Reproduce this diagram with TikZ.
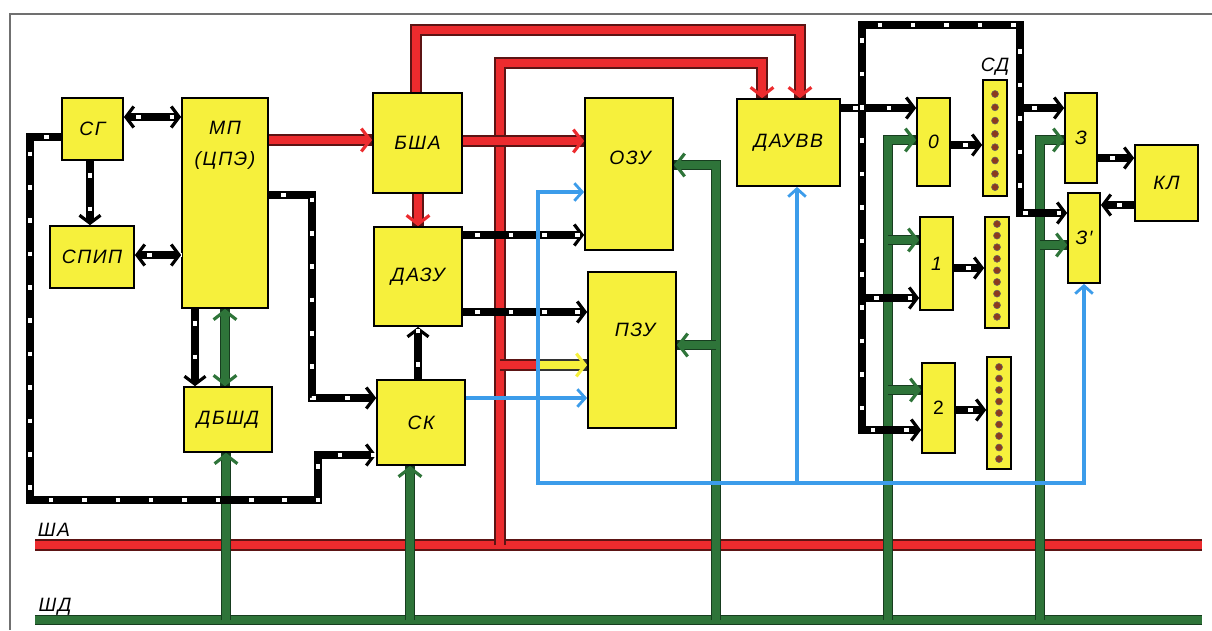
\documentclass[tikz,border=0pt]{standalone}
\usepackage{fontspec}
\setmainfont{Liberation Sans}[LetterSpace=8]
\usepackage{xcolor}
\usetikzlibrary{arrows.meta}
\definecolor{boxyellow}{HTML}{F6F03C}
\definecolor{busred}{HTML}{EC2B2E}
\definecolor{darkred}{HTML}{5C1414}
\definecolor{busgreen}{HTML}{2E7439}
\definecolor{darkgreen}{HTML}{173D1F}
\definecolor{lineblue}{HTML}{3C9CEA}
\definecolor{dotbrown}{HTML}{8C3A1C}
\definecolor{framegray}{HTML}{707070}

\begin{document}
\begin{tikzpicture}[x=0.02cm,y=-0.02cm,
		font=\fontsize{11}{12}\selectfont\itshape,
		blk/.style={draw=black,fill=boxyellow,line width=1pt,inner sep=0pt},
		dbus/.style={line width=4.2pt,black,>={Straight Barb[length=4.5pt,width=12pt,line width'=1.8pt]},
			postaction={draw=white,-,line width=2.3pt,dash pattern=on 2.6pt off 16.4pt,dash phase=-7pt}},
		rbus/.style={line width=5pt,busred,>={Straight Barb[length=5pt,width=13pt,line width'=1.8pt]},
			preaction={draw=darkred,-,line width=6.4pt}},
		ybus/.style={line width=5pt,boxyellow,>={Straight Barb[length=5pt,width=13pt,line width'=1.8pt]},
			preaction={draw=black!80,-,line width=6.4pt}},
		gbus/.style={line width=4.8pt,busgreen,>={Straight Barb[length=5pt,width=13pt,line width'=1.8pt]},
			preaction={draw=darkgreen,-,line width=6.2pt}},
		bl/.style={line width=2.1pt,lineblue,>={Straight Barb[length=4.5pt,width=10pt,line width'=1.6pt]}},
		dot/.style={fill=dotbrown,draw=black!60,line width=0.3pt},
	]
		\useasboundingbox (0,0) rectangle (1212,630);
		\draw[framegray,line width=0.8pt] (10,630) -- (10,14) -- (1212,14);
		%
		\node[blk,minimum width=1.22cm,minimum height=1.24cm] (SG) at (92.5,129) {СГ};
		\node[blk,minimum width=1.68cm,minimum height=1.24cm] (SPIP) at (92,257) {СПИП};
		\node[blk,minimum width=1.72cm,minimum height=4.2cm] (MP) at (225,203) {};
		\node (MPa) at (225,128) {МП};
		\node (MPb) at (225,160) {(ЦПЭ)};
		\node[blk,minimum width=1.76cm,minimum height=1.3cm] (DBSD) at (228,419.5) {ДБШД};
		\node[blk,minimum width=1.78cm,minimum height=2cm] (BSA) at (417.5,143) {БША};
		\node[blk,minimum width=1.76cm,minimum height=1.98cm] (DAZU) at (418,276.5) {ДАЗУ};
		\node[blk,minimum width=1.76cm,minimum height=1.7cm] (SK) at (421,422.5) {СК};
		\node[blk,minimum width=1.76cm,minimum height=3.04cm] (OZU) at (629,174) {};
		\node (OZUt) at (630,158) {ОЗУ};
		\node[blk,minimum width=1.76cm,minimum height=3.12cm] (PZU) at (632,350) {};
		\node (PZUt) at (635,330) {ПЗУ};
		\node[blk,minimum width=2.06cm,minimum height=1.74cm] (DAUVV) at (788.5,142.5) {ДАУВВ};
		\node[blk,minimum width=0.66cm,minimum height=1.76cm] (B0) at (933.5,142) {0};
		\node[blk,minimum width=0.66cm,minimum height=1.86cm] (B1) at (936.5,263.5) {1};
		\node[blk,minimum width=0.66cm,minimum height=1.8cm] (B2) at (938.5,408) {\upshape 2};
		\node[blk,minimum width=0.48cm,minimum height=2.32cm] (SD0) at (995,138) {};
		\node[blk,minimum width=0.48cm,minimum height=2.22cm] (SD1) at (997,272.5) {};
		\node[blk,minimum width=0.48cm,minimum height=2.24cm] (SD2) at (999,413) {};
		\node (SDt) at (995,67) {СД};
		\node[blk,minimum width=0.64cm,minimum height=1.8cm] (Z3) at (1081,138) {З};
		\node[blk,minimum width=0.64cm,minimum height=1.8cm] (Z3p) at (1084,238) {З′};
		\node[blk,minimum width=1.26cm,minimum height=1.52cm] (KL) at (1166.5,183) {КЛ};
		\foreach \k in {0,...,7}
			\path[dot] (995,{94+\k*13.3}) circle[radius=2pt];
		\foreach \k in {0,...,8}
			\path[dot] (997,{224+\k*11.6}) circle[radius=2pt];
		\foreach \k in {0,...,8}
			\path[dot] (999,{367+\k*11.5}) circle[radius=2pt];
		%
		\coordinate (SHAl) at (35,545);
		\coordinate (SHAr) at (1202,545);
		\coordinate (SHDl) at (35,620);
		\coordinate (SHDr) at (1202,620);
		\node (SHAt) at (54,530) {ША};
		\node (SHDt) at (55,607) {ШД};
		\draw[rbus] (SHAl) -- (SHAr);
		\draw[gbus] (SHDl) -- (SHDr);
		%
		\draw[rbus,->] (MP.east |- 0,140) -- (BSA.west |- 0,140);
		\draw[rbus,->] (BSA.south -| 418,0) -- (DAZU.north -| 418,0);
		\draw[rbus,->] (BSA.north -| 416,0) -- (416,30) -| (DAUVV.north -| 800,0);
		\draw[rbus,->] (SHAl -| 500,0) -- (500,63) -| (DAUVV.north -| 762,0);
		\draw[rbus,->] (BSA.east |- 0,141) -- (OZU.west |- 0,141);
		\draw[rbus] (500,365) -- (540,365);
		\draw[ybus,->] (540,365) -- (PZU.west |- 0,365);
		%
		\draw[gbus,->] (SHDl -| 226,0) -- (DBSD.south -| 226,0);
		\draw[gbus,<->] (MP.south -| 225,0) -- (DBSD.north -| 225,0);
		\draw[gbus,->] (SHDl -| 410,0) -- (SK.south -| 410,0);
		\draw[gbus,->] (SHDl -| 716,0) -- (716,165) -- (OZU.east |- 0,165);
		\draw[gbus,->] (716,345) -- (PZU.east |- 0,345);
		\draw[gbus,->] (SHDl -| 888,0) -- (888,140) -- (B0.west |- 0,140);
		\draw[gbus,->] (888,240) -- (B1.west |- 0,240);
		\draw[gbus,->] (888,390) -- (B2.west |- 0,390);
		\draw[gbus,->] (SHDl -| 1040,0) -- (1040,140) -- (Z3.west |- 0,140);
		\draw[gbus,->] (1040,245) -- (Z3p.west |- 0,245);
		%
		\draw[dbus,<->] (SG.east |- 0,117) -- (MP.west |- 0,117);
		\draw[dbus,->] (SG.south -| 90,0) -- (SPIP.north -| 90,0);
		\draw[dbus,<->] (SPIP.east |- 0,255) -- (MP.west |- 0,255);
		\draw[dbus,->] (SG.west |- 0,137) -| (30,500) -| (318,455) -- (SK.west |- 0,455);
		\draw[dbus,->] (MP.east |- 0,195) -| (312,398) -- (SK.west |- 0,398);
		\draw[dbus,->] (MP.south -| 195,0) -- (DBSD.north -| 195,0);
		\draw[dbus,->] (SK.north -| 418,0) -- (DAZU.south -| 418,0);
		\draw[dbus,->] (DAZU.east |- 0,235) -- (OZU.west |- 0,235);
		\draw[dbus,->] (DAZU.east |- 0,312) -- (PZU.west |- 0,312);
		\draw[dbus,->] (DAUVV.east |- 0,108) -- (B0.west |- 0,108);
		\draw[dbus,<->] (B2.west |- 0,430) -| (862,25) -| (1020,213) -- (Z3p.west |- 0,213);
		\draw[dbus,->] (862,298) -- (B1.west |- 0,298);
		\draw[dbus,->] (1020,108) -- (Z3.west |- 0,108);
		\draw[dbus,->] (B0.east |- 0,145) -- (SD0.west |- 0,145);
		\draw[dbus,->] (B1.east |- 0,268) -- (SD1.west |- 0,268);
		\draw[dbus,->] (B2.east |- 0,410) -- (SD2.west |- 0,410);
		\draw[dbus,->] (Z3.east |- 0,158) -- (KL.west |- 0,158);
		\draw[dbus,->] (KL.west |- 0,205) -- (Z3p.east |- 0,205);
		%
		\draw[bl,->] (SK.east |- 0,398) -- (PZU.west |- 0,398);
		\draw[bl,<->] (OZU.west |- 0,192) -| (538,483) -| (Z3p.south);
		\draw[bl,->] (797,483) -- (DAUVV.south -| 797,0);
	\end{tikzpicture}
\end{document}
